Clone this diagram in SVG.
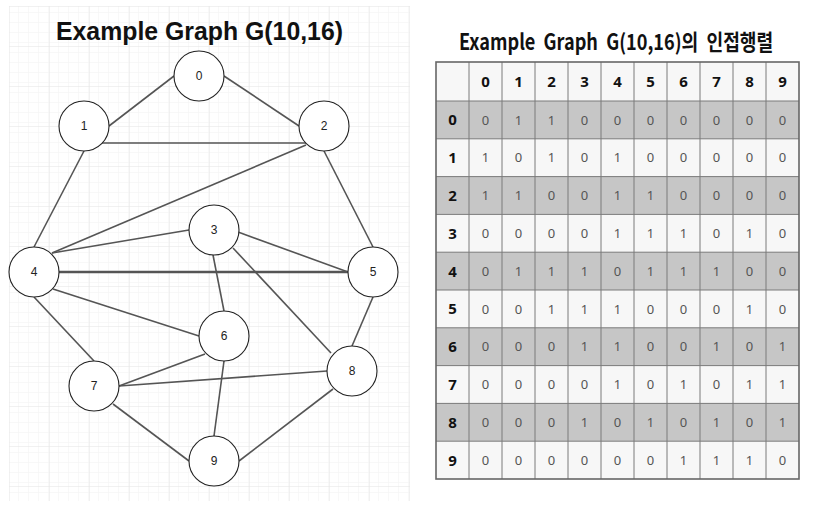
<svg xmlns="http://www.w3.org/2000/svg" width="821" height="505" viewBox="0 0 821 505">
<defs>
<pattern id="minor" x="9" y="6" width="10" height="10" patternUnits="userSpaceOnUse">
<path d="M10 0 H0 V10" fill="none" stroke="#f2f2f2" stroke-width="1"/>
</pattern>
<pattern id="major" x="9" y="6" width="40" height="40" patternUnits="userSpaceOnUse">
<rect width="40" height="40" fill="url(#minor)"/>
<path d="M40 0 H0 V40" fill="none" stroke="#e3e3e3" stroke-width="1"/>
</pattern>
<style>
.title{font-family:"Liberation Sans",Arial,sans-serif;font-weight:bold;fill:#111}
.ktitle{font-family:"Noto Sans CJK KR","Noto Sans",sans-serif;font-weight:bold;fill:#111}
.node circle{fill:#fff;stroke:#222;stroke-width:1.1}
.node text{font-family:"Liberation Sans",Arial,sans-serif;font-size:12px;fill:#222;text-anchor:middle}
.edges line{stroke:#555;stroke-width:1.6}
.shade{fill:#c6c6c6}
.light{fill:#f7f7f7}
.grid line{stroke:#7a7a7a;stroke-width:1}
.hd{font-family:"Open Sans","Noto Sans",sans-serif;font-weight:bold;font-size:15px;fill:#111;text-anchor:middle}
.v{font-family:"Noto Sans","Open Sans",sans-serif;font-size:13px;fill:#555;text-anchor:middle}
</style>
</defs>
<rect width="821" height="505" fill="#fff"/>
<rect x="9" y="6" width="401" height="495" fill="url(#major)"/>
<text class="title" x="56" y="40" font-size="26" textLength="287" lengthAdjust="spacingAndGlyphs">Example Graph G(10,16)</text>

<g class="edges" id="edges">
<line x1="109" y1="126" x2="174" y2="76"/>
<line x1="224" y1="76" x2="299" y2="126"/>
<line x1="102" y1="143" x2="306" y2="143"/>
<line x1="84" y1="151" x2="34" y2="247"/>
<line x1="306" y1="145" x2="52" y2="253"/>
<line x1="189" y1="230" x2="52" y2="253"/>
<line x1="324" y1="151" x2="373" y2="247"/>
<line x1="238" y1="232" x2="348" y2="272"/>
<line x1="59" y1="272" x2="348" y2="272" style="stroke-width:2.6"/>
<line x1="213" y1="255" x2="224" y2="311"/>
<line x1="233" y1="248" x2="331" y2="353"/>
<line x1="53" y1="289" x2="199" y2="336"/>
<line x1="34" y1="297" x2="94" y2="361"/>
<line x1="373" y1="297" x2="352" y2="346"/>
<line x1="205" y1="354" x2="119" y2="386"/>
<line x1="119" y1="386" x2="327" y2="371"/>
<line x1="224" y1="361" x2="214" y2="436"/>
<line x1="113" y1="404" x2="189" y2="461"/>
<line x1="333" y1="389" x2="239" y2="461"/>
</g>

<g class="node" id="n0"><circle cx="199" cy="76" r="25"/><text x="199" y="80">0</text></g>
<g class="node" id="n1"><circle cx="84" cy="126" r="25"/><text x="84" y="130">1</text></g>
<g class="node" id="n2"><circle cx="324" cy="126" r="25"/><text x="324" y="130">2</text></g>
<g class="node" id="n3"><circle cx="214" cy="230" r="25"/><text x="214" y="234">3</text></g>
<g class="node" id="n4"><circle cx="34" cy="272" r="25"/><text x="34" y="276">4</text></g>
<g class="node" id="n5"><circle cx="373" cy="272" r="25"/><text x="373" y="276">5</text></g>
<g class="node" id="n6"><circle cx="224" cy="336" r="25"/><text x="224" y="340">6</text></g>
<g class="node" id="n7"><circle cx="94" cy="386" r="25"/><text x="94" y="390">7</text></g>
<g class="node" id="n8"><circle cx="352" cy="371" r="25"/><text x="352" y="375">8</text></g>
<g class="node" id="n9"><circle cx="214" cy="461" r="25"/><text x="214" y="465">9</text></g>

<g transform="translate(459,50) scale(0.84,1)">
<text class="ktitle" x="0" y="0" font-size="22" xml:space="preserve" textLength="374" lengthAdjust="spacingAndGlyphs">Example  Graph  G(10,16)의  인접행렬</text>
</g>

<g id="matrix">
<rect class="light" x="436" y="62" width="363" height="39"/>
<rect class="shade" x="436" y="101" width="363" height="37.8"/>
<rect class="light" x="436" y="138.8" width="363" height="37.8"/>
<rect class="shade" x="436" y="176.6" width="363" height="37.8"/>
<rect class="light" x="436" y="214.4" width="363" height="37.8"/>
<rect class="shade" x="436" y="252.2" width="363" height="37.8"/>
<rect class="light" x="436" y="290" width="363" height="37.8"/>
<rect class="shade" x="436" y="327.8" width="363" height="37.8"/>
<rect class="light" x="436" y="365.6" width="363" height="37.8"/>
<rect class="shade" x="436" y="403.4" width="363" height="37.8"/>
<rect class="light" x="436" y="441.2" width="363" height="37.8"/>
<g class="grid">
<line x1="469" y1="62" x2="469" y2="479"/>
<line x1="502" y1="62" x2="502" y2="479"/>
<line x1="535" y1="62" x2="535" y2="479"/>
<line x1="568" y1="62" x2="568" y2="479"/>
<line x1="601" y1="62" x2="601" y2="479"/>
<line x1="634" y1="62" x2="634" y2="479"/>
<line x1="667" y1="62" x2="667" y2="479"/>
<line x1="700" y1="62" x2="700" y2="479"/>
<line x1="733" y1="62" x2="733" y2="479"/>
<line x1="766" y1="62" x2="766" y2="479"/>
<line x1="436" y1="101" x2="799" y2="101"/>
<line x1="436" y1="138.8" x2="799" y2="138.8"/>
<line x1="436" y1="176.6" x2="799" y2="176.6"/>
<line x1="436" y1="214.4" x2="799" y2="214.4"/>
<line x1="436" y1="252.2" x2="799" y2="252.2"/>
<line x1="436" y1="290" x2="799" y2="290"/>
<line x1="436" y1="327.8" x2="799" y2="327.8"/>
<line x1="436" y1="365.6" x2="799" y2="365.6"/>
<line x1="436" y1="403.4" x2="799" y2="403.4"/>
<line x1="436" y1="441.2" x2="799" y2="441.2"/>
</g>
<rect x="436" y="62" width="363" height="417" fill="none" stroke="#666" stroke-width="1.6"/>

<g id="header">
<text class="hd" x="485.5" y="87">0</text><text class="hd" x="518.5" y="87">1</text><text class="hd" x="551.5" y="87">2</text><text class="hd" x="584.5" y="87">3</text><text class="hd" x="617.5" y="87">4</text><text class="hd" x="650.5" y="87">5</text><text class="hd" x="683.5" y="87">6</text><text class="hd" x="716.5" y="87">7</text><text class="hd" x="749.5" y="87">8</text><text class="hd" x="782.5" y="87">9</text>
<text class="hd" x="452.5" y="125">0</text><text class="hd" x="452.5" y="163">1</text><text class="hd" x="452.5" y="201">2</text><text class="hd" x="452.5" y="238.5">3</text><text class="hd" x="452.5" y="276.5">4</text><text class="hd" x="452.5" y="314">5</text><text class="hd" x="452.5" y="352">6</text><text class="hd" x="452.5" y="390">7</text><text class="hd" x="452.5" y="427.5">8</text><text class="hd" x="452.5" y="465.5">9</text>
</g>

<g id="r0"><text class="v" x="485.5" y="124.5">0</text><text class="v" x="518.5" y="124.5">1</text><text class="v" x="551.5" y="124.5">1</text><text class="v" x="584.5" y="124.5">0</text><text class="v" x="617.5" y="124.5">0</text><text class="v" x="650.5" y="124.5">0</text><text class="v" x="683.5" y="124.5">0</text><text class="v" x="716.5" y="124.5">0</text><text class="v" x="749.5" y="124.5">0</text><text class="v" x="782.5" y="124.5">0</text></g>
<g id="r1"><text class="v" x="485.5" y="162.3">1</text><text class="v" x="518.5" y="162.3">0</text><text class="v" x="551.5" y="162.3">1</text><text class="v" x="584.5" y="162.3">0</text><text class="v" x="617.5" y="162.3">1</text><text class="v" x="650.5" y="162.3">0</text><text class="v" x="683.5" y="162.3">0</text><text class="v" x="716.5" y="162.3">0</text><text class="v" x="749.5" y="162.3">0</text><text class="v" x="782.5" y="162.3">0</text></g>
<g id="r2"><text class="v" x="485.5" y="200.1">1</text><text class="v" x="518.5" y="200.1">1</text><text class="v" x="551.5" y="200.1">0</text><text class="v" x="584.5" y="200.1">0</text><text class="v" x="617.5" y="200.1">1</text><text class="v" x="650.5" y="200.1">1</text><text class="v" x="683.5" y="200.1">0</text><text class="v" x="716.5" y="200.1">0</text><text class="v" x="749.5" y="200.1">0</text><text class="v" x="782.5" y="200.1">0</text></g>
<g id="r3"><text class="v" x="485.5" y="237.9">0</text><text class="v" x="518.5" y="237.9">0</text><text class="v" x="551.5" y="237.9">0</text><text class="v" x="584.5" y="237.9">0</text><text class="v" x="617.5" y="237.9">1</text><text class="v" x="650.5" y="237.9">1</text><text class="v" x="683.5" y="237.9">1</text><text class="v" x="716.5" y="237.9">0</text><text class="v" x="749.5" y="237.9">1</text><text class="v" x="782.5" y="237.9">0</text></g>
<g id="r4"><text class="v" x="485.5" y="275.7">0</text><text class="v" x="518.5" y="275.7">1</text><text class="v" x="551.5" y="275.7">1</text><text class="v" x="584.5" y="275.7">1</text><text class="v" x="617.5" y="275.7">0</text><text class="v" x="650.5" y="275.7">1</text><text class="v" x="683.5" y="275.7">1</text><text class="v" x="716.5" y="275.7">1</text><text class="v" x="749.5" y="275.7">0</text><text class="v" x="782.5" y="275.7">0</text></g>
<g id="r5"><text class="v" x="485.5" y="313.5">0</text><text class="v" x="518.5" y="313.5">0</text><text class="v" x="551.5" y="313.5">1</text><text class="v" x="584.5" y="313.5">1</text><text class="v" x="617.5" y="313.5">1</text><text class="v" x="650.5" y="313.5">0</text><text class="v" x="683.5" y="313.5">0</text><text class="v" x="716.5" y="313.5">0</text><text class="v" x="749.5" y="313.5">1</text><text class="v" x="782.5" y="313.5">0</text></g>
<g id="r6"><text class="v" x="485.5" y="351.3">0</text><text class="v" x="518.5" y="351.3">0</text><text class="v" x="551.5" y="351.3">0</text><text class="v" x="584.5" y="351.3">1</text><text class="v" x="617.5" y="351.3">1</text><text class="v" x="650.5" y="351.3">0</text><text class="v" x="683.5" y="351.3">0</text><text class="v" x="716.5" y="351.3">1</text><text class="v" x="749.5" y="351.3">0</text><text class="v" x="782.5" y="351.3">1</text></g>
<g id="r7"><text class="v" x="485.5" y="389.1">0</text><text class="v" x="518.5" y="389.1">0</text><text class="v" x="551.5" y="389.1">0</text><text class="v" x="584.5" y="389.1">0</text><text class="v" x="617.5" y="389.1">1</text><text class="v" x="650.5" y="389.1">0</text><text class="v" x="683.5" y="389.1">1</text><text class="v" x="716.5" y="389.1">0</text><text class="v" x="749.5" y="389.1">1</text><text class="v" x="782.5" y="389.1">1</text></g>
<g id="r8"><text class="v" x="485.5" y="426.9">0</text><text class="v" x="518.5" y="426.9">0</text><text class="v" x="551.5" y="426.9">0</text><text class="v" x="584.5" y="426.9">1</text><text class="v" x="617.5" y="426.9">0</text><text class="v" x="650.5" y="426.9">1</text><text class="v" x="683.5" y="426.9">0</text><text class="v" x="716.5" y="426.9">1</text><text class="v" x="749.5" y="426.9">0</text><text class="v" x="782.5" y="426.9">1</text></g>
<g id="r9"><text class="v" x="485.5" y="464.7">0</text><text class="v" x="518.5" y="464.7">0</text><text class="v" x="551.5" y="464.7">0</text><text class="v" x="584.5" y="464.7">0</text><text class="v" x="617.5" y="464.7">0</text><text class="v" x="650.5" y="464.7">0</text><text class="v" x="683.5" y="464.7">1</text><text class="v" x="716.5" y="464.7">1</text><text class="v" x="749.5" y="464.7">1</text><text class="v" x="782.5" y="464.7">0</text></g>
</g>
</svg>
